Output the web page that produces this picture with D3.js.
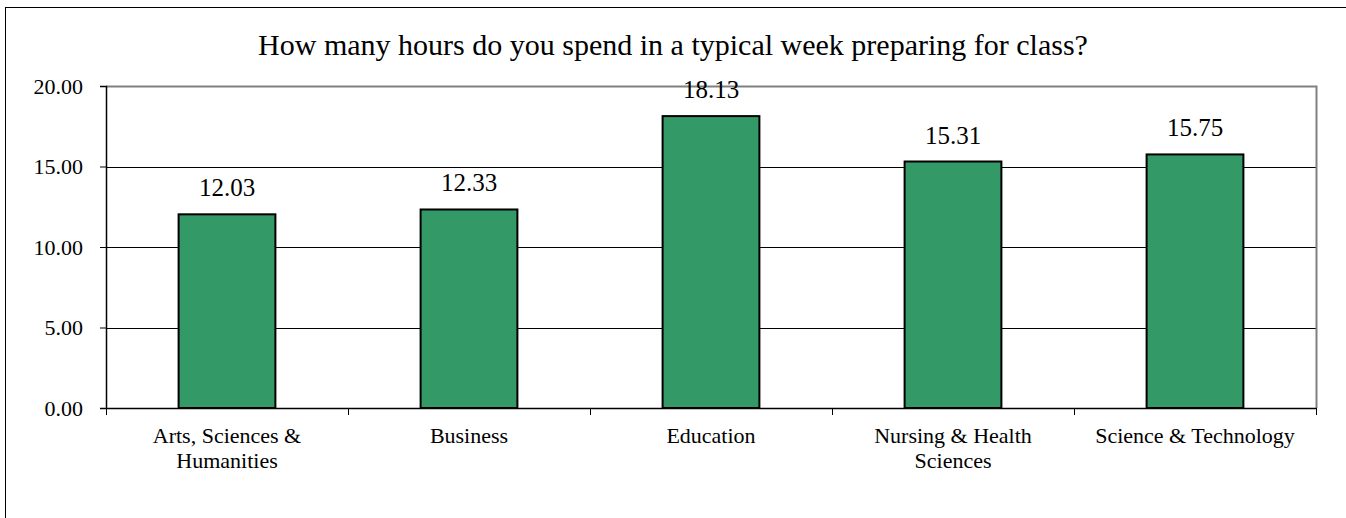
<!DOCTYPE html>
<html><head><meta charset="utf-8">
<script src="https://cdn.jsdelivr.net/npm/d3@7"></script>
<style>html,body{margin:0;padding:0;background:#fff;}svg{display:block;}</style>
</head><body>
<svg id="chart" width="1346" height="518"></svg>
<script>
const categories = [["Arts, Sciences &","Humanities"],["Business"],["Education"],["Nursing & Health","Sciences"],["Science & Technology"]];
const values = [12.03, 12.33, 18.13, 15.31, 15.75];
const yTicks = [0, 5, 10, 15, 20];
const title = "How many hours do you spend in a typical week preparing for class?";

const svg = d3.select("#chart");
const font = "'Liberation Serif','Times New Roman',serif";
const m = {left:106, right:1316, top:86, bottom:408};

svg.append("rect").attr("x",5.5).attr("y",7.5).attr("width",1400).attr("height",600)
  .attr("fill","#fff").attr("stroke","#000").attr("stroke-width",1);

const x = d3.scaleBand().domain(d3.range(categories.length)).range([m.left,m.right]).paddingInner(0).paddingOuter(0);
const y = d3.scaleLinear().domain([0,20]).range([m.bottom,m.top]);

// gridlines
svg.append("g").selectAll("line").data(yTicks.filter(d=>d>0&&d<20)).join("line")
  .attr("x1",m.left).attr("x2",m.right).attr("y1",d=>Math.round(y(d))+0.5).attr("y2",d=>Math.round(y(d))+0.5)
  .attr("stroke","#000").attr("stroke-width",1);

// frame top/right gray
svg.append("path").attr("d",`M${m.left},${m.top+0.5}H${m.right+0.5}V${m.bottom}`)
  .attr("fill","none").attr("stroke","#808080").attr("stroke-width",2);

// bars
const bw = x.bandwidth()*0.4;
svg.append("g").selectAll("rect").data(values).join("rect")
  .attr("x",(d,i)=>x(i)+x.bandwidth()/2-bw/2).attr("width",bw)
  .attr("y",d=>y(d)).attr("height",d=>y(0)-y(d))
  .attr("fill","#339966").attr("stroke","#000").attr("stroke-width",2);

// value labels
svg.append("g").selectAll("text").data(values).join("text")
  .attr("x",(d,i)=>x(i)+x.bandwidth()/2).attr("y",d=>y(d)-18)
  .attr("text-anchor","middle").attr("font-family",font).attr("font-size",25).attr("fill","#000")
  .text(d=>d3.format(".2f")(d));

// y axis
const yAxis = d3.axisLeft(y).tickValues(yTicks).tickFormat(d3.format(".2f")).tickSize(6).tickPadding(17);
const gy = svg.append("g").attr("transform",`translate(${m.left},0)`).call(yAxis);
gy.attr("font-family",font).attr("font-size",22);
gy.select(".domain").attr("stroke","#000").attr("stroke-width",1.5);
gy.selectAll(".tick line").attr("stroke","#000");
gy.selectAll(".tick text").attr("font-family",font).attr("font-size",22).attr("fill","#000");

// x axis
const xb = d3.scaleLinear().domain([0,categories.length]).range([m.left,m.right]);
const xAxis = d3.axisBottom(xb).tickValues(d3.range(categories.length+1)).tickFormat("").tickSize(7).tickSizeOuter(0);
const gx = svg.append("g").attr("transform",`translate(0,${m.bottom})`).call(xAxis);
gx.select(".domain").attr("stroke","#000").attr("stroke-width",1.5);
gx.selectAll(".tick line").attr("stroke","#000");

// category labels
const cl = svg.append("g").selectAll("text").data(categories).join("text")
  .attr("x",(d,i)=>x(i)+x.bandwidth()/2).attr("y",443)
  .attr("text-anchor","middle").attr("font-family",font).attr("font-size",22).attr("fill","#000");
cl.selectAll("tspan").data(d=>d).join("tspan")
  .attr("x",function(){return this.parentNode.getAttribute("x");})
  .attr("dy",(d,i)=>i===0?0:25).text(d=>d);

// title
svg.append("text").attr("x",673).attr("y",55).attr("text-anchor","middle")
  .attr("font-family",font).attr("font-size",30).attr("fill","#000").text(title);
</script>
</body></html>
